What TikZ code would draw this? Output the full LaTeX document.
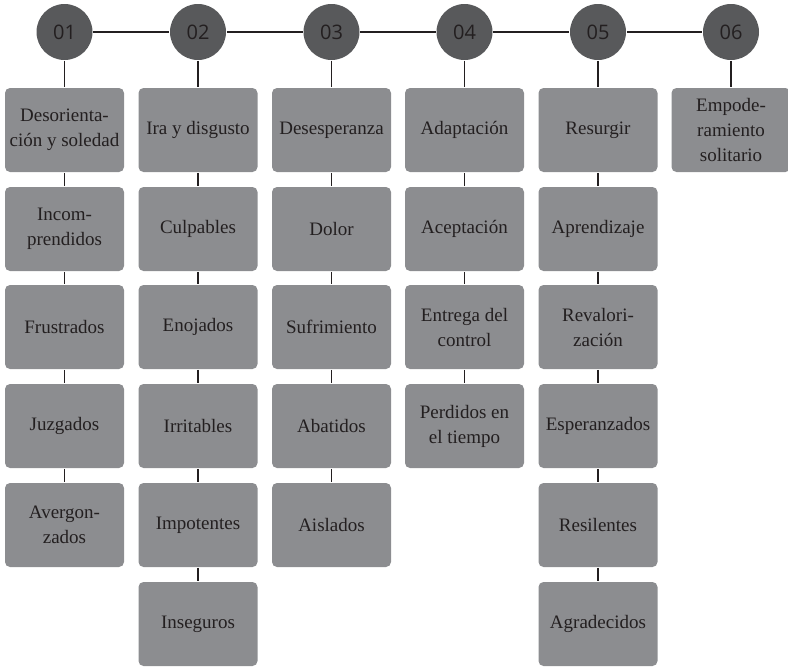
\documentclass[tikz,border=0pt]{standalone}
\usepackage{fontspec}
\setmainfont{Liberation Serif}
\newfontfamily\numfont{Open Sans}
\definecolor{stagegray}{HTML}{58595B}
\definecolor{boxgray}{HTML}{8C8D90}
\definecolor{inkdark}{HTML}{231F20}
\begin{document}
\begin{tikzpicture}[x=1pt, y=-1pt, line width=1.6pt, draw=inkdark,
    stage/.style={circle, fill=stagegray, minimum size=56pt, inner sep=0pt, text=inkdark, font=\numfont\fontsize{20}{20}\selectfont},
    feel/.style={rectangle, rounded corners=5pt, fill=boxgray, minimum width=119pt, minimum height=84pt, inner sep=1pt, align=center, text=inkdark, font=\fontsize{19}{25}\selectfont}]

    \useasboundingbox (0,0) rectangle (788,667);

    % Stages
    \node[stage] (S1) at (64.5,32) {01};
    \node[stage] (S2) at (198,32) {02};
    \node[stage] (S3) at (331.5,32) {03};
    \node[stage] (S4) at (464.5,32) {04};
    \node[stage] (S5) at (598,32) {05};
    \node[stage] (S6) at (731,32) {06};

    % First stage
    \node[feel] (A1) at (64.5,130) {Desorienta-\\ción y soledad};
    \node[feel] (A2) at (64.5,229) {Incom-\\prendidos};
    \node[feel] (A3) at (64.5,327) {Frustrados};
    \node[feel] (A4) at (64.5,426) {Juzgados};
    \node[feel] (A5) at (64.5,525) {Avergon-\\zados};

    % Second stage
    \node[feel] (B1) at (198,130) {Ira y disgusto};
    \node[feel] (B2) at (198,229) {Culpables};
    \node[feel] (B3) at (198,327) {Enojados};
    \node[feel] (B4) at (198,426) {Irritables};
    \node[feel] (B5) at (198,525) {Impotentes};
    \node[feel] (B6) at (198,624) {Inseguros};

    % Third stage
    \node[feel] (C1) at (331.5,130) {Desesperanza};
    \node[feel] (C2) at (331.5,229) {Dolor};
    \node[feel] (C3) at (331.5,327) {Sufrimiento};
    \node[feel] (C4) at (331.5,426) {Abatidos};
    \node[feel] (C5) at (331.5,525) {Aislados};

    % Fourth stage
    \node[feel] (D1) at (464.5,130) {Adaptación};
    \node[feel] (D2) at (464.5,229) {Aceptación};
    \node[feel] (D3) at (464.5,327) {Entrega del\\control};
    \node[feel] (D4) at (464.5,426) {Perdidos en\\el tiempo};

    % Fifth stage
    \node[feel] (E1) at (598,130) {Resurgir};
    \node[feel] (E2) at (598,229) {Aprendizaje};
    \node[feel] (E3) at (598,327) {Revalori-\\zación};
    \node[feel] (E4) at (598,426) {Esperanzados};
    \node[feel] (E5) at (598,525) {Resilentes};
    \node[feel] (E6) at (598,624) {Agradecidos};

    % Sixth stage
    \node[feel] (F1) at (731,130) {Empode-\\ramiento\\solitario};

    \draw (S1) -- (S2);
    \draw (S2) -- (S3);
    \draw (S3) -- (S4);
    \draw (S4) -- (S5);
    \draw (S5) -- (S6);

    \draw (S1) -- (A1);
    \draw (A1) -- (A2);
    \draw (A2) -- (A3);
    \draw (A3) -- (A4);
    \draw (A4) -- (A5);

    \draw (S2) -- (B1);
    \draw (B1) -- (B2);
    \draw (B2) -- (B3);
    \draw (B3) -- (B4);
    \draw (B4) -- (B5);
    \draw (B5) -- (B6);

    \draw (S3) -- (C1);
    \draw (C1) -- (C2);
    \draw (C2) -- (C3);
    \draw (C3) -- (C4);
    \draw (C4) -- (C5);

    \draw (S4) -- (D1);
    \draw (D1) -- (D2);
    \draw (D2) -- (D3);
    \draw (D3) -- (D4);

    \draw (S5) -- (E1);
    \draw (E1) -- (E2);
    \draw (E2) -- (E3);
    \draw (E3) -- (E4);
    \draw (E4) -- (E5);
    \draw (E5) -- (E6);

    \draw (S6) -- (F1);

\end{tikzpicture}
\end{document}
